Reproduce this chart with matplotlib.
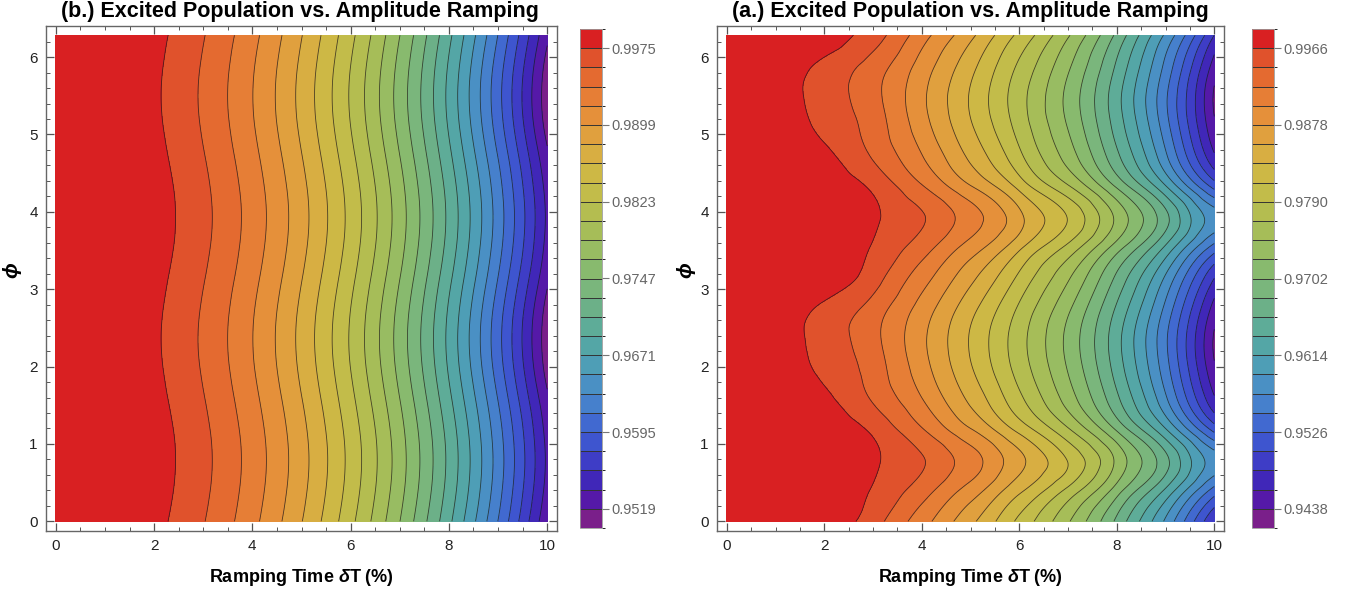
import numpy as np
import matplotlib
matplotlib.use("Agg")
import matplotlib.pyplot as plt
import matplotlib.tri as mtri
from matplotlib.colors import ListedColormap, BoundaryNorm
import matplotlib.cm as cm

plt.rcParams['font.family'] = ['Liberation Sans', 'DejaVu Sans']
plt.rcParams['mathtext.fontset'] = 'custom'
plt.rcParams['mathtext.it'] = 'Liberation Sans:italic:bold'
plt.rcParams['mathtext.rm'] = 'Liberation Sans:bold'
plt.rcParams['mathtext.bf'] = 'Liberation Sans:bold'

# ---------------- data ----------------
ramp_time = [0, 1, 2, 3, 4, 5, 6, 7, 8, 9, 10]          # Ramping time dT (%)
phi_nodes = [k * np.pi / 8 for k in range(8)]            # one period (pi) of phi

# panel (b): excited population, rows = phi_nodes, cols = ramp_time
pop_b = [
    [1.0, 0.99952, 0.99809, 0.99571, 0.99237, 0.98808, 0.98283, 0.97663, 0.96947, 0.96136, 0.95230],
    [1.0, 0.99964, 0.99830, 0.99600, 0.99274, 0.98853, 0.98336, 0.97723, 0.97015, 0.96212, 0.95312],
    [1.0, 0.99968, 0.99838, 0.99612, 0.99290, 0.98872, 0.98358, 0.97748, 0.97043, 0.96243, 0.95346],
    [1.0, 0.99964, 0.99830, 0.99600, 0.99274, 0.98853, 0.98336, 0.97723, 0.97015, 0.96212, 0.95312],
    [1.0, 0.99952, 0.99809, 0.99571, 0.99237, 0.98808, 0.98283, 0.97663, 0.96947, 0.96136, 0.95230],
    [1.0, 0.99941, 0.99789, 0.99542, 0.99199, 0.98762, 0.98230, 0.97602, 0.96879, 0.96050, 0.95120],
    [1.0, 0.99936, 0.99780, 0.99529, 0.99184, 0.98743, 0.98208, 0.97577, 0.96851, 0.96015, 0.95080],
    [1.0, 0.99941, 0.99789, 0.99542, 0.99199, 0.98762, 0.98230, 0.97602, 0.96879, 0.96050, 0.95120],
]

# panel (a)
pop_a = [
    [1.0, 0.9993, 0.9980, 0.9954, 0.99095, 0.98616, 0.98067, 0.97487, 0.96750, 0.95882, 0.9482],
    [1.0, 0.9995, 0.9983, 0.9964, 0.99321, 0.98897, 0.98382, 0.97831, 0.97119, 0.96311, 0.9538],
    [1.0, 0.9997, 0.9987, 0.9970, 0.99460, 0.99100, 0.98620, 0.98110, 0.97410, 0.96650, 0.9582],
    [1.0, 0.9993, 0.9982, 0.9962, 0.99246, 0.98804, 0.98280, 0.97719, 0.97003, 0.96175, 0.9520],
    [1.0, 0.9988, 0.9971, 0.9942, 0.99013, 0.98515, 0.97957, 0.97366, 0.96634, 0.95746, 0.9464],
    [1.0, 0.9983, 0.9961, 0.9934, 0.98880, 0.98367, 0.97813, 0.97227, 0.96489, 0.95577, 0.9442],
    [1.0, 0.9981, 0.9956, 0.9929, 0.98830, 0.98320, 0.97770, 0.97180, 0.96440, 0.95520, 0.9435],
    [1.0, 0.9983, 0.9961, 0.9935, 0.98912, 0.98414, 0.97864, 0.97282, 0.96547, 0.95644, 0.9451],
]

levels_b = 0.9500 + 0.0019 * np.arange(27)
levels_a = 0.9416 + 0.0022 * np.arange(27)
ticks_b = [0.9519, 0.9595, 0.9671, 0.9747, 0.9823, 0.9899, 0.9975]
ticks_a = [0.9438, 0.9526, 0.9614, 0.9702, 0.9790, 0.9878, 0.9966]

titles = ["(b.) Excited Population vs. Amplitude Ramping",
          "(a.) Excited Population vs. Amplitude Ramping"]

band_colors = ["#7a1f8a", "#5519a8", "#4027b8", "#3e3dc6", "#3e55cf", "#4169d0",
               "#4680cc", "#4a90c4", "#4e9eb6", "#54a6a6", "#5eac98", "#6cb088",
               "#7ab67c", "#88ba6e", "#98bc62", "#a6bd58", "#b4bd50", "#c2bc4a",
               "#cdb845", "#d8ae42", "#e0a03e", "#e5903a", "#e67e36", "#e46a30",
               "#e0522c", "#d92022"]

# ---------------- helpers ----------------
def smooth_field(rows):
    rows = np.asarray(rows, float)
    n = len(rows)
    # periodic extension in phi (period pi) for the library's cubic interpolator
    stack = np.vstack([rows[-2:], rows, rows, rows[:3]])
    phis = (np.arange(stack.shape[0]) - 2) * np.pi / n
    X, Y = np.meshgrid(np.asarray(ramp_time, float), phis)
    tri = mtri.Triangulation(X.ravel(), Y.ravel())
    interp = mtri.CubicTriInterpolator(tri, stack.ravel(), kind='min_E')
    xf = np.linspace(1e-6, 10 - 1e-6, 321)
    yf = np.linspace(0, 2 * np.pi, 321)
    XF, YF = np.meshgrid(xf, yf)
    ZF = interp(XF, YF)
    return XF, YF, np.ma.filled(ZF, np.nan)

fig = plt.figure(figsize=(13.58, 5.95), dpi=100)
W, H = 1358.0, 595.0

panels = [
    dict(data=pop_b, levels=levels_b, ticks=ticks_b, title=titles[0],
         ax=(46, 557), cb=(580, 602), title_x=300, ylab_x=12),
    dict(data=pop_a, levels=levels_a, ticks=ticks_a, title=titles[1],
         ax=(717, 1224), cb=(1252, 1274), title_x=970, ylab_x=686),
]

ax_top, ax_bot = 25.5, 531.0
for p in panels:
    x0, x1 = p['ax']
    ax = fig.add_axes([x0 / W, 1 - ax_bot / H, (x1 - x0) / W, (ax_bot - ax_top) / H])
    XF, YF, ZF = smooth_field(p['data'])
    lev = np.array(p['levels'])
    fill_lev = lev.copy()
    fill_lev[0] = min(lev[0], np.nanmin(ZF)) - 1e-4
    fill_lev[-1] = max(lev[-1], np.nanmax(ZF)) + 1e-4
    ax.contourf(XF, YF, ZF, levels=fill_lev, colors=band_colors)
    ax.contour(XF, YF, ZF, levels=lev[1:-1], colors='#1a1a1a', linewidths=0.6, alpha=0.75)
    pad_x = 0.02 * 10
    pad_y = 0.02 * 2 * np.pi
    ax.set_xlim(-pad_x, 10 + pad_x)
    ax.set_ylim(-pad_y, 2 * np.pi + pad_y)
    ax.set_xticks([0, 2, 4, 6, 8, 10])
    ax.set_xticks(np.arange(0, 10.01, 0.5), minor=True)
    ax.set_yticks([0, 1, 2, 3, 4, 5, 6])
    ax.set_yticks(np.arange(0, 6.3, 0.2), minor=True)
    ax.tick_params(which='both', direction='in', top=True, right=True,
                   color='#555555', labelsize=11, labelcolor='#222222')
    ax.tick_params(which='major', length=6, width=0.9, pad=6)
    ax.tick_params(which='minor', length=3, width=0.7)
    for s in ax.spines.values():
        s.set_color('#666666')
        s.set_linewidth(1.0)

    fig.text(p['title_x'] / W, 1 - 12 / H, p['title'], ha='center', va='center',
             fontsize=15.5, fontweight='bold', color='black')
    fig.text(((x0 + x1) / 2) / W, 1 - 578 / H, r"Ramping Time $\mathit{\delta}$T (%)",
             ha='center', va='center', fontsize=13, fontweight='bold')
    fig.text(p['ylab_x'] / W, 1 - 270 / H, "ϕ", ha='center', va='center',
             fontsize=15, fontweight='bold', fontstyle='italic', rotation=90)

    c0, c1 = p['cb']
    cax = fig.add_axes([c0 / W, 1 - 528 / H, (c1 - c0) / W, (528 - 29) / H])
    sm = cm.ScalarMappable(norm=BoundaryNorm(lev, 26), cmap=ListedColormap(band_colors))
    cbar = fig.colorbar(sm, cax=cax, boundaries=lev, ticks=p['ticks'],
                        drawedges=True, spacing='uniform')
    cbar.set_ticklabels([f"{t:.4f}" for t in p['ticks']])
    cbar.dividers.set_color('#333333')
    cbar.dividers.set_linewidth(0.7)
    cbar.outline.set_edgecolor('#999999')
    cbar.outline.set_linewidth(0.6)
    cax.tick_params(colors='#777777', labelcolor='#666666', labelsize=10.5,
                    length=5, width=0.8, direction='out', pad=2)

fig.savefig("out.png", dpi=100)
